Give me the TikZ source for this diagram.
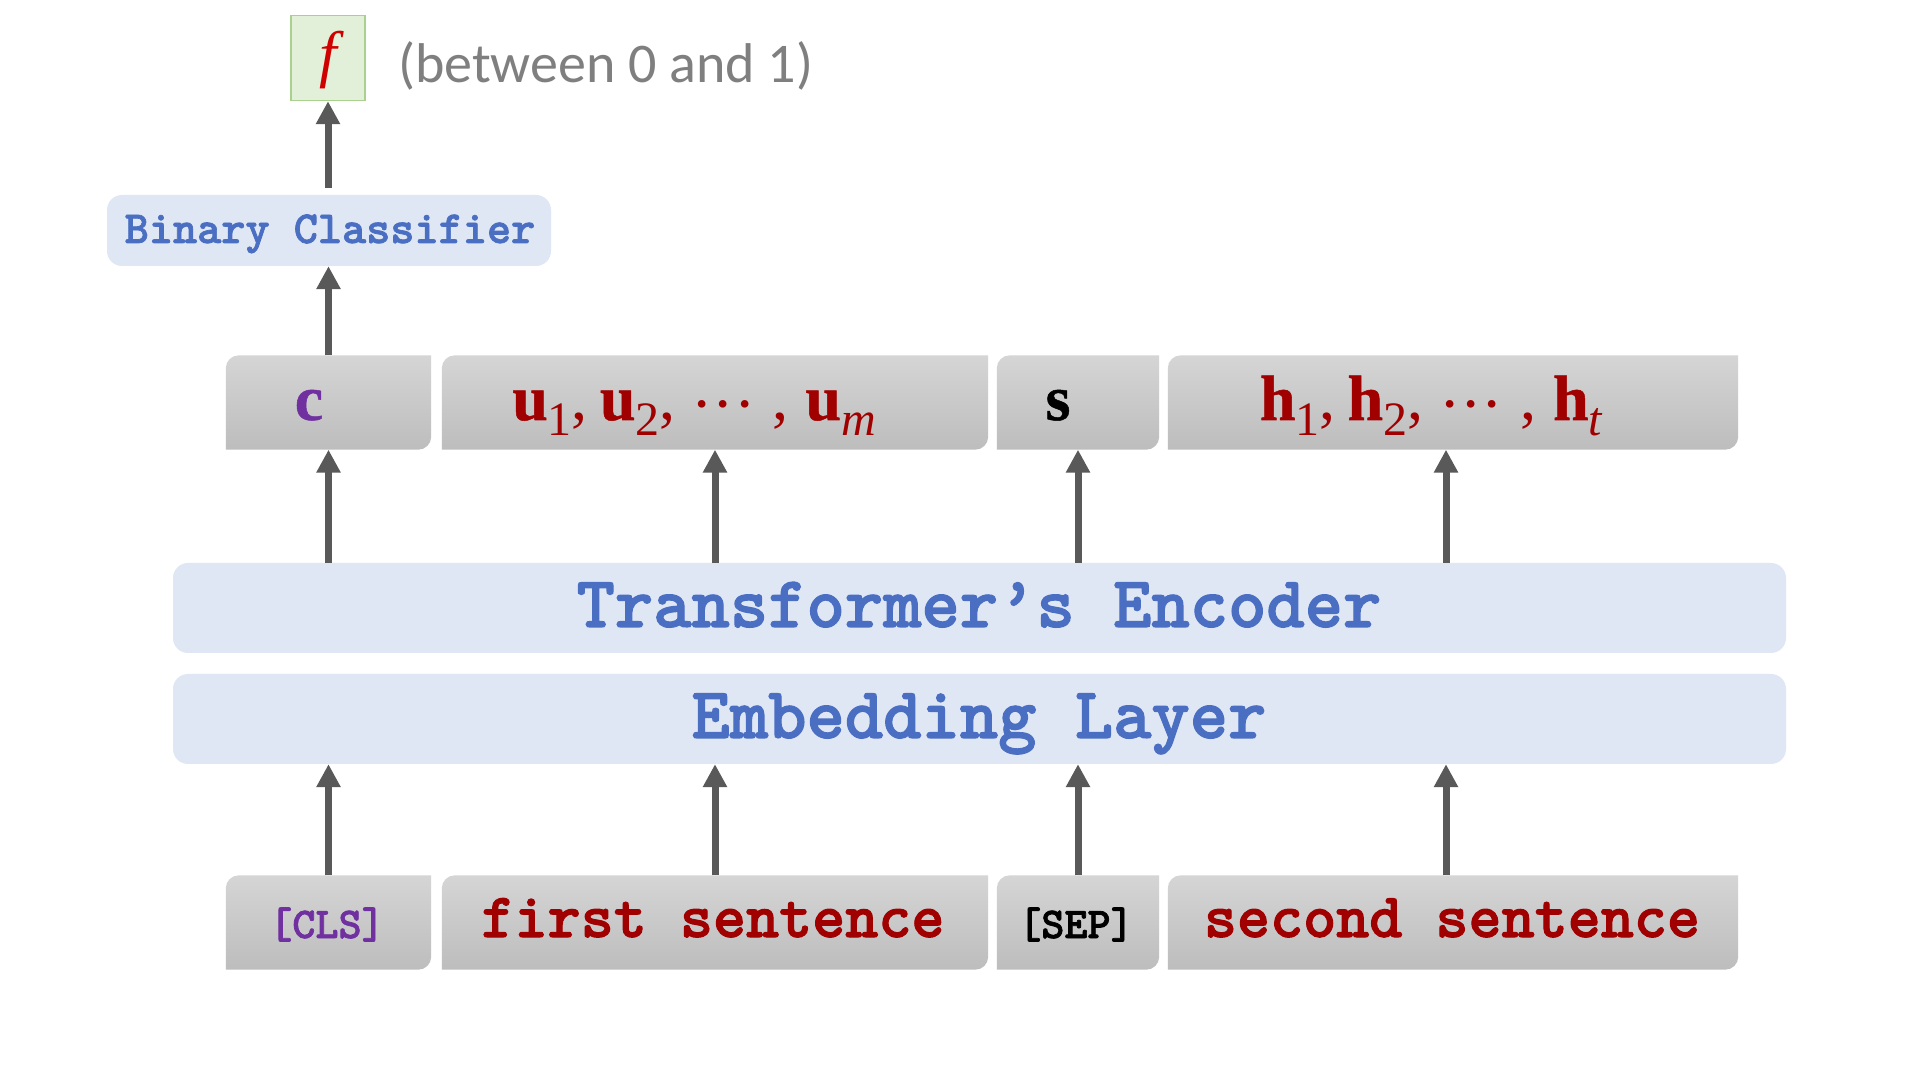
\documentclass[tikz,border=0pt]{standalone}
\usepackage{fontspec}
\usetikzlibrary{arrows.meta,calc,backgrounds}
\newfontfamily\seriff{Liberation Serif}[BoldFeatures={FakeBold=0.8}]
\newfontfamily\calibf{Carlito}
\newfontfamily\monob{lmmonolt10-bold.otf}[FakeBold=1.6]
\definecolor{arrowgray}{HTML}{595959}
\definecolor{boxblue}{HTML}{DFE7F5}
\definecolor{txtblue}{HTML}{4A6FC2}
\definecolor{darkred}{HTML}{A00000}
\definecolor{fred}{HTML}{D00000}
\definecolor{purp}{HTML}{7030A0}
\definecolor{greyt}{HTML}{7F7F7F}
\definecolor{gfill}{HTML}{E2EFD9}
\definecolor{gdraw}{HTML}{A9D18E}
\definecolor{tokTop}{HTML}{D5D5D5}
\definecolor{tokBot}{HTML}{BDBDBD}
\newcommand\sbs[1]{\raisebox{-16pt}{\fontsize{48}{48}\selectfont #1}}
\newcommand\vb[1]{\textbf{#1}}
\newcommand\cdts{\raisebox{-6pt}{···}}
\newcommand\tokshade[1]{%
  \shade[top color=tokTop,bottom color=tokBot]
  ($(#1.north west)+(0,-13)$) arc[start angle=180,end angle=90,radius=13pt]
  -- (#1.north east) -- ($(#1.south east)+(0,13)$)
  arc[start angle=0,end angle=-90,radius=13pt] -- (#1.south west) -- cycle;}
\tikzset{
  bluebox/.style={fill=boxblue, rounded corners=15pt, inner sep=0pt},
  tokbox/.style={inner sep=0pt, minimum height=94pt},
  arr/.style={draw=arrowgray, line width=7pt, -{Triangle[width=23pt,length=23pt]}},
  monotxt/.style={inner sep=0pt, anchor=base},
  mathtxt/.style={inner sep=0pt, anchor=base, font=\seriff\fontsize{64}{64}\selectfont},
}
\begin{document}
\begin{tikzpicture}[x=1pt,y=1pt]
\useasboundingbox (0,0) rectangle (1920,1080);
% output
\node[fill=gfill, draw=gdraw, line width=1.5pt, inner sep=0pt, minimum width=74pt, minimum height=85pt] (fbox) at (328,1022) {};
\node[inner sep=0pt, anchor=base, font=\seriff\itshape\fontsize{63}{63}\selectfont, text=fred] (ftxt) at (328,1004) {f};
\node[inner sep=0pt, anchor=base west, font=\calibf\fontsize{56}{56}\selectfont, text=greyt] (range) at (398,997) {(between 0 and 1)};
% classifier
\node[bluebox, minimum width=444pt, minimum height=71pt] (bc) at (329,849.5) {};
\node[monotxt, font=\monob\fontsize{46}{46}\selectfont, text=txtblue] (bctxt) at (330,837) {Binary Classifier};
% top row
\node[tokbox, minimum width=205pt] (c) at (328.5,677.5) {};
\node[tokbox, minimum width=546pt] (u) at (715,677.5) {};
\node[tokbox, minimum width=162pt] (s) at (1078,677.5) {};
\node[tokbox, minimum width=570pt] (h) at (1453,677.5) {};
\node[mathtxt, text=purp] (ctxt) at (309,660) {\vb{c}};
\node[mathtxt, text=darkred] (utxt) at (694,660) {\vb{u}\sbs{1},\hspace{12pt}\vb{u}\sbs{2},\hspace{16pt}\cdts\hspace{17pt},\hspace{17pt}\vb{u}\sbs{\itshape m}};
\node[mathtxt, text=black] (stxt) at (1058,660) {\vb{s}};
\node[mathtxt, text=darkred] (htxt) at (1431,660) {\vb{h}\sbs{1},\hspace{12pt}\vb{h}\sbs{2},\hspace{16pt}\cdts\hspace{17pt},\hspace{17pt}\vb{h}\sbs{\itshape t}};
% encoder and embedding
\node[bluebox, minimum width=1613pt, minimum height=90pt] (enc) at (979.5,472) {};
\node[monotxt, font=\monob\fontsize{73}{73}\selectfont, text=txtblue] (enctxt) at (979,453) {Transformer’s Encoder};
\node[bluebox, minimum width=1613pt, minimum height=90pt] (emb) at (979.5,361) {};
\node[monotxt, font=\monob\fontsize{73}{73}\selectfont, text=txtblue] (embtxt) at (979,342) {Embedding Layer};
% bottom row
\node[tokbox, minimum width=205pt] (cls) at (328.5,157.5) {};
\node[tokbox, minimum width=546pt] (fst) at (715,157.5) {};
\node[tokbox, minimum width=162pt] (sep) at (1078,157.5) {};
\node[tokbox, minimum width=570pt] (snd) at (1453,157.5) {};
\node[monotxt, font=\monob\fontsize{44}{44}\selectfont, text=purp] (clstxt) at (327,142) {[CLS]};
\node[monotxt, font=\monob\fontsize{63}{63}\selectfont, text=darkred] (fsttxt) at (713,143) {first sentence};
\node[monotxt, font=\monob\fontsize{44}{44}\selectfont, text=black] (septxt) at (1076,142) {[SEP]};
\node[monotxt, font=\monob\fontsize{63}{63}\selectfont, text=darkred] (sndtxt) at (1452,143) {second sentence};
% shaded token boxes
\begin{scope}[on background layer]
  \fill[white] (0,0) rectangle (1920,1080);
  \tokshade{c}\tokshade{u}\tokshade{s}\tokshade{h}
  \tokshade{cls}\tokshade{fst}\tokshade{sep}\tokshade{snd}
\end{scope}
% arrows
\foreach \b in {cls,fst,sep}{\draw[arr] (\b.north) -- (\b.north |- emb.south);}
\draw[arr] ([xshift=-7pt]snd.north) -- ([xshift=-7pt]snd.north |- emb.south);
\foreach \b in {c,u,s}{\draw[arr] (enc.north -| \b) -- (\b.south);}
\draw[arr] ([xshift=-7pt]h.south |- enc.north) -- ([xshift=-7pt]h.south);
\draw[arr] (c.north) -- (c.north |- bc.south);
\draw[arr, shorten <=7pt] (bc.north -| fbox) -- (fbox.south);
\end{tikzpicture}
\end{document}
